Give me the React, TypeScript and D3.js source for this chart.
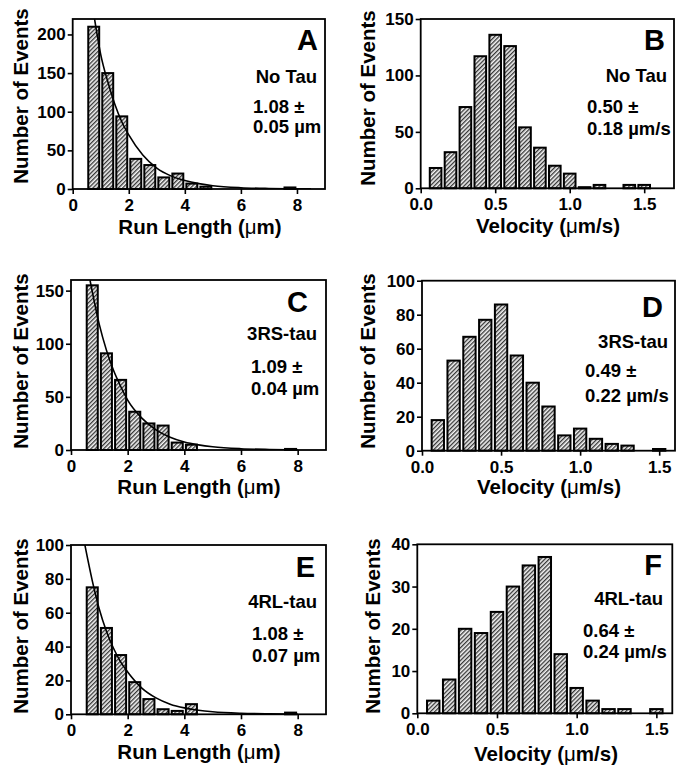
import React, { useRef, useEffect } from 'react';
import * as d3 from 'd3';

// bin centres
const runBins = [0.75, 1.25, 1.75, 2.25, 2.75, 3.25, 3.75, 4.25, 4.75, 5.25, 5.75, 6.25, 6.75, 7.25, 7.75];
const velBins = [0.1, 0.2, 0.3, 0.4, 0.5, 0.6, 0.7, 0.8, 0.9, 1.0, 1.1, 1.2, 1.3, 1.4, 1.5];

// run length counts
const runNoTau = [210, 150, 94, 39, 31, 15, 20, 7, 3, 0, 0, 0, 0, 0, 2];
const run3RS = [155, 91, 66, 36, 25, 23, 7, 5, 0, 0, 0, 0, 0, 0, 1];
const run4RL = [75, 51, 35, 19, 9, 3, 2, 6, 0, 0, 0, 0, 0, 0, 1];

// velocity counts
const velNoTau = [18, 32, 72, 117, 136, 126, 54, 36, 20, 13, 1, 3, 0, 3, 3];
const vel3RS = [18, 53, 67, 77, 86, 56, 40, 26, 9, 13, 7, 4, 3, 0, 1];
const vel4RL = [3, 8, 20, 19, 24, 30, 35, 37, 14, 6, 3, 1, 1, 0, 1];

// fitted decay curves
const fitNoTauX = [0.78, 1, 1.25, 1.5, 1.75, 2, 2.5, 3, 3.5, 4, 4.5, 5, 6, 7, 8, 8.5];
const fitNoTauY = [220, 174, 139, 110, 87, 70, 44, 27, 17, 11, 7, 4.3, 1.7, 0.7, 0.3, 0.2];
const fit3RSX = [0.67, 1, 1.25, 1.5, 1.75, 2, 2.5, 3, 3.5, 4, 4.5, 5, 6, 7, 8];
const fit3RSY = [160, 118, 94, 75, 60, 47, 30, 19, 12, 7.5, 4.8, 3, 1.2, 0.5, 0.2];
const fit4RLX = [0.49, 0.75, 1, 1.25, 1.5, 1.75, 2, 2.5, 3, 3.5, 4, 4.5, 5, 6, 7, 8];
const fit4RLY = [100, 79, 62, 49, 39, 31, 25, 15.5, 9.7, 6, 3.8, 2.4, 1.5, 0.6, 0.25, 0.1];

const runTicks = [0, 2, 4, 6, 8];
const velTicks = [0, 0.5, 1.0, 1.5];

const panels = [
  { id: 'A', cond: 'No Tau', mean: '1.08 ±', sd: '0.05 µm', kind: 'run', bins: runBins, values: runNoTau, fitX: fitNoTauX, fitY: fitNoTauY,
    xMax: 9, yMax: 220, yTicks: [0, 50, 100, 150, 200],
    left: 72.7, right: 325, top: 19, bottom: 189,
    letter: [318, 50], condPos: [317, 83], meanPos: [253, 113, 133], xl: [200, 234], yl: [28, 96] },
  { id: 'B', cond: 'No Tau', mean: '0.50 ±', sd: '0.18 µm/s', kind: 'vel', bins: velBins, values: velNoTau,
    xMax: 1.7, yMax: 150, yTicks: [0, 50, 100, 150],
    left: 420.7, right: 674, top: 19, bottom: 188.3,
    letter: [665, 50], condPos: [667, 82], meanPos: [587, 113, 135], xl: [548, 233], yl: [375, 98] },
  { id: 'C', cond: '3RS-tau', mean: '1.09 ±', sd: '0.04 µm', kind: 'run', bins: runBins, values: run3RS, fitX: fit3RSX, fitY: fit3RSY,
    xMax: 9, yMax: 160, yTicks: [0, 50, 100, 150],
    left: 71, right: 326, top: 280, bottom: 450,
    letter: [308, 312], condPos: [317, 340], meanPos: [251, 373, 395], xl: [199, 494], yl: [28, 361] },
  { id: 'D', cond: '3RS-tau', mean: '0.49 ±', sd: '0.22 µm/s', kind: 'vel', bins: velBins, values: vel3RS,
    xMax: 1.6, yMax: 100, yTicks: [0, 20, 40, 60, 80, 100],
    left: 422, right: 675, top: 280.7, bottom: 450.7,
    letter: [663, 317], condPos: [668, 348], meanPos: [585, 377, 402], xl: [549, 494], yl: [375, 361] },
  { id: 'E', cond: '4RL-tau', mean: '1.08 ±', sd: '0.07 µm', kind: 'run', bins: runBins, values: run4RL, fitX: fit4RLX, fitY: fit4RLY,
    xMax: 9, yMax: 100, yTicks: [0, 20, 40, 60, 80, 100],
    left: 71, right: 326, top: 545, bottom: 714.3,
    letter: [315, 577], condPos: [317, 608], meanPos: [252, 640, 662], xl: [199, 759], yl: [28, 626] },
  { id: 'F', cond: '4RL-tau', mean: '0.64 ±', sd: '0.24 µm/s', kind: 'vel', bins: velBins, values: vel4RL,
    xMax: 1.6, yMax: 40, yTicks: [0, 10, 20, 30, 40],
    left: 417.3, right: 672.3, top: 544.3, bottom: 713.3,
    letter: [662, 575], condPos: [663, 605], meanPos: [583, 637, 658], xl: [546, 761], yl: [380, 626] },
];

const FONT = '"Liberation Sans", Arial, sans-serif';

export default function App() {
  const svgRef = useRef<SVGSVGElement>(null);

  useEffect(() => {
    const svg = d3.select(svgRef.current);
    svg.selectAll('*').remove();

    const defs = svg.append('defs');
    const pat = defs.append('pattern')
      .attr('id', 'hatch')
      .attr('patternUnits', 'userSpaceOnUse')
      .attr('width', 3)
      .attr('height', 3)
      .attr('patternTransform', 'rotate(45)');
    pat.append('rect').attr('width', 3).attr('height', 3).attr('fill', '#f4f4f4');
    pat.append('line').attr('x1', 0.7).attr('y1', 0).attr('x2', 0.7).attr('y2', 3)
      .attr('stroke', '#222').attr('stroke-width', 1.2);

    panels.forEach(p => {
      const x = d3.scaleLinear().domain([0, p.xMax]).range([p.left, p.right]);
      const y = d3.scaleLinear().domain([0, p.yMax]).range([p.bottom, p.top]);
      const g = svg.append('g').style('font-family', FONT).style('font-weight', 'bold');

      defs.append('clipPath').attr('id', 'clip' + p.id)
        .append('rect')
        .attr('x', p.left).attr('y', p.top)
        .attr('width', p.right - p.left).attr('height', p.bottom - p.top);

      // bars
      const binW = p.bins[1] - p.bins[0];
      const bw = binW * 0.78;
      const bars = p.bins.map((c, i) => ({ c, v: p.values[i] })).filter(d => d.v > 0);
      g.selectAll('rect.bar')
        .data(bars)
        .join('rect')
        .attr('class', 'bar')
        .attr('x', d => x(d.c - bw / 2))
        .attr('width', x(bw) - x(0))
        .attr('y', d => y(d.v))
        .attr('height', d => y(0) - y(d.v))
        .attr('fill', 'url(#hatch)')
        .attr('stroke', '#000')
        .attr('stroke-width', 2);

      // fitted curve
      if (p.fitX) {
        const pts = p.fitX.map((v, i) => [v, p.fitY[i]] as [number, number]);
        const line = d3.line<[number, number]>()
          .x(d => x(d[0]))
          .y(d => y(d[1]))
          .curve(d3.curveMonotoneX);
        g.append('path')
          .attr('d', line(pts))
          .attr('fill', 'none')
          .attr('stroke', '#000')
          .attr('stroke-width', 1.6)
          .attr('clip-path', `url(#clip${p.id})`);
      }

      // frame
      g.append('rect')
        .attr('x', p.left).attr('y', p.top)
        .attr('width', p.right - p.left).attr('height', p.bottom - p.top)
        .attr('fill', 'none').attr('stroke', '#000').attr('stroke-width', 1.8);

      // axes
      const xTicks = p.kind === 'run' ? runTicks : velTicks;
      const xAxis = d3.axisBottom(x)
        .tickValues(xTicks)
        .tickSize(5)
        .tickPadding(5)
        .tickFormat(p.kind === 'run' ? d3.format('d') : d3.format('.1f'));
      const gx = g.append('g').attr('transform', `translate(0,${p.bottom})`).call(xAxis);
      const yAxis = d3.axisLeft(y).tickValues(p.yTicks).tickSize(5).tickPadding(2);
      const gy = g.append('g').attr('transform', `translate(${p.left},0)`).call(yAxis);
      [gx, gy].forEach(a => {
        a.select('.domain').remove();
        a.attr('font-family', FONT).attr('font-size', 17).attr('font-weight', 'bold');
        a.selectAll('line').attr('stroke', '#000').attr('stroke-width', 1.6);
        a.selectAll('text').attr('fill', '#000');
      });

      // axis titles
      const xt = g.append('text')
        .attr('x', p.xl[0]).attr('y', p.xl[1])
        .attr('text-anchor', 'middle')
        .attr('font-size', 20.5);
      xt.append('tspan').text(p.kind === 'run' ? 'Run Length (' : 'Velocity (');
      xt.append('tspan').attr('font-weight', 'normal').text('μ');
      xt.append('tspan').text(p.kind === 'run' ? 'm)' : 'm/s)');

      g.append('text')
        .attr('transform', `translate(${p.yl[0]},${p.yl[1]}) rotate(-90)`)
        .attr('text-anchor', 'middle')
        .attr('font-size', 20.5)
        .text('Number of Events');

      // annotations
      g.append('text')
        .attr('x', p.letter[0]).attr('y', p.letter[1])
        .attr('text-anchor', 'end').attr('font-size', 29)
        .text(p.id);
      g.append('text')
        .attr('x', p.condPos[0]).attr('y', p.condPos[1])
        .attr('text-anchor', 'end').attr('font-size', 18.5)
        .text(p.cond);
      g.append('text')
        .attr('x', p.meanPos[0]).attr('y', p.meanPos[1])
        .attr('font-size', 18.5)
        .text(p.mean);
      g.append('text')
        .attr('x', p.meanPos[0]).attr('y', p.meanPos[2])
        .attr('font-size', 18.5)
        .text(p.sd);
    });
  }, []);

  return (
    <svg
      ref={svgRef}
      width={676}
      height={771}
      style={{ position: 'absolute', left: 0, top: 0, background: '#fff' }}
    />
  );
}
